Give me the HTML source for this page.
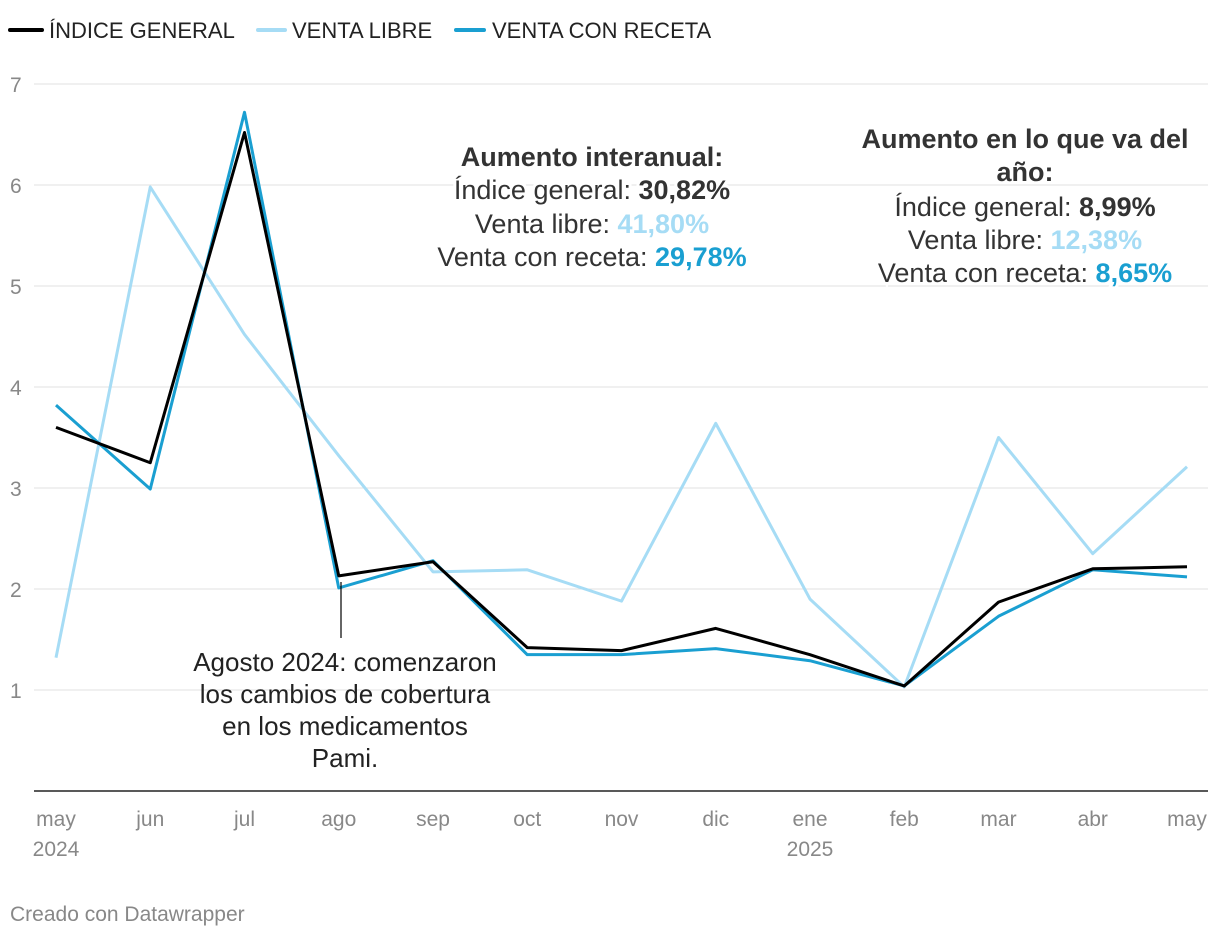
<!DOCTYPE html>
<html><head><meta charset="utf-8">
<style>
body{margin:0;background:#fff;font-family:"Liberation Sans",sans-serif;}
svg{display:block}
</style></head>
<body>
<svg id="chart" width="1220" height="938">
<g font-size="22" fill="#222">
  <line x1="10" y1="30" x2="42" y2="30" stroke="#000" stroke-width="4" stroke-linecap="round"/>
  <text x="49" y="38">ÍNDICE GENERAL</text>
  <line x1="258" y1="30" x2="285" y2="30" stroke="#a6dcf5" stroke-width="4" stroke-linecap="round"/>
  <text x="292" y="38">VENTA LIBRE</text>
  <line x1="456" y1="30" x2="484" y2="30" stroke="#1a9fd1" stroke-width="4" stroke-linecap="round"/>
  <text x="492" y="38">VENTA CON RECETA</text>
</g>
<g id="grid"></g>
<g id="lines"></g>
<g id="xaxis"></g>
<line x1="341" y1="582" x2="341" y2="638" stroke="#000" stroke-width="1.2"/>
<g font-size="26" fill="#222" text-anchor="middle">
  <text x="345" y="671">Agosto 2024: comenzaron</text>
  <text x="345" y="703">los cambios de cobertura</text>
  <text x="345" y="735">en los medicamentos</text>
  <text x="345" y="767">Pami.</text>
</g>
<g font-size="27" fill="#333" text-anchor="middle" stroke="#fff" stroke-width="6" paint-order="stroke">
  <text x="592" y="166" font-weight="bold">Aumento interanual:</text>
  <text x="592" y="199">Índice general: <tspan font-weight="bold">30,82%</tspan></text>
  <text x="592" y="233">Venta libre: <tspan font-weight="bold" fill="#a6dcf5">41,80%</tspan></text>
  <text x="592" y="266">Venta con receta: <tspan font-weight="bold" fill="#1a9fd1">29,78%</tspan></text>
</g>
<g font-size="27" fill="#333" text-anchor="middle" stroke="#fff" stroke-width="6" paint-order="stroke">
  <text x="1025" y="148" font-weight="bold">Aumento en lo que va del</text>
  <text x="1025" y="181" font-weight="bold">año:</text>
  <text x="1025" y="216">Índice general: <tspan font-weight="bold">8,99%</tspan></text>
  <text x="1025" y="249">Venta libre: <tspan font-weight="bold" fill="#a6dcf5">12,38%</tspan></text>
  <text x="1025" y="282">Venta con receta: <tspan font-weight="bold" fill="#1a9fd1">8,65%</tspan></text>
</g>
<text x="10" y="921" font-size="21" fill="#888">Creado con Datawrapper</text>
</svg>
<script>
const months = ["may","jun","jul","ago","sep","oct","nov","dic","ene","feb","mar","abr","may"];
const yearLabels = ["2024","","","","","","","","2025","","","",""];
const yTicks = [1,2,3,4,5,6,7];
const indiceGeneral = [3.6,3.25,6.52,2.13,2.27,1.42,1.39,1.61,1.35,1.04,1.87,2.2,2.22];
const ventaLibre = [1.32,5.98,4.52,3.32,2.17,2.19,1.88,3.64,1.9,1.03,3.5,2.35,3.21];
const ventaReceta = [3.82,2.99,6.72,2.01,2.28,1.35,1.35,1.41,1.29,1.04,1.73,2.19,2.12];

const NS="http://www.w3.org/2000/svg";
const x0=56,x1=1187,yBase=791,yTop=84,yMax=7;
const xs=i=>x0+i*(x1-x0)/(months.length-1);
const ys=v=>yBase-(yBase-yTop)*v/yMax;
function mk(t,a,p){const e=document.createElementNS(NS,t);for(const k in a)e.setAttribute(k,a[k]);p.appendChild(e);return e;}

const grid=document.getElementById('grid');
yTicks.forEach(v=>{
  const l=mk('line',{x1:34,x2:1208,y1:ys(v),y2:ys(v),stroke:'#e0e0e0','stroke-width':1},grid);
  
  
  const t=mk('text',{x:10,y:ys(v)+8,'font-size':21,fill:'#888'},grid);
  t.textContent=v;
  
  
});
const base=mk('line',{x1:34,x2:1208,y1:yBase,y2:yBase,stroke:'#222','stroke-width':1.5},grid);



const xa=document.getElementById('xaxis');
months.forEach((m,i)=>{
  const t=mk('text',{x:xs(i),y:826,'font-size':21,fill:'#888','text-anchor':'middle'},xa);
  t.textContent=m;
  
  
  if(yearLabels[i]){
    const y=mk('text',{x:xs(i),y:856,'font-size':21,fill:'#888','text-anchor':'middle'},xa);
    y.textContent=yearLabels[i];
    
    
  }
});

const lines=document.getElementById('lines');
function drawLine(data,color,name){
  const d=data.map((v,i)=>(i?'L':'M')+xs(i)+','+ys(v)).join(' ');
  const p=mk('path',{d:d,fill:'none',stroke:color,'stroke-width':3,'stroke-linejoin':'round'},lines);
  
  
}
drawLine(ventaLibre,'#a6dcf5','line-venta-libre');
drawLine(ventaReceta,'#1a9fd1','line-venta-con-receta');
drawLine(indiceGeneral,'#000','line-indice-general');
</script>
</body></html>
